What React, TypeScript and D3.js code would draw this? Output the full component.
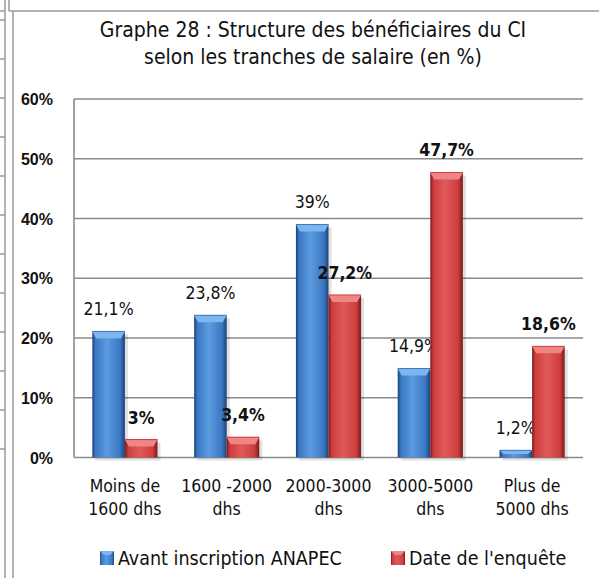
import React, { useRef, useEffect } from 'react';
import * as d3 from 'd3';

// categories and series
const categories = [['Moins de', '1600 dhs'], ['1600 -2000', 'dhs'], ['2000-3000', 'dhs'], ['3000-5000', 'dhs'], ['Plus de', '5000 dhs']];
const seriesNames = ['Avant inscription ANAPEC', "Date de l'enquête"];
const avant = [21.1, 23.8, 39, 14.9, 1.2];
const enquete = [3, 3.4, 27.2, 47.7, 18.6];
const avantLabels = ['21,1%', '23,8%', '39%', '14,9%', '1,2%'];
const enqueteLabels = ['3%', '3,4%', '27,2%', '47,7%', '18,6%'];
const yTicks = [0, 10, 20, 30, 40, 50, 60];
const titleLines = ['Graphe 28 : Structure des bénéficiaires  du CI', 'selon les tranches de salaire (en %)'];

const narrow = "'Liberation Sans Narrow', 'Arial Narrow', 'DejaVu Sans Condensed', sans-serif";

function App() {
  const ref = useRef();
  const width = 599;
  const height = 578;
  var margin = ({ top: 99, right: 16, bottom: 120.5, left: 74 });

  useEffect(() => {
    const svg = d3.select(ref.current);
    svg.selectAll('*').remove();
    drawChart(svg);
  }, []);

  const drawChart = (svg) => {
    const defs = svg.append('defs');
    const colors = [
      { dark: '#1d4378', mid: '#3a78c4', light: '#5b9be0', top: '#7fb5ee' },
      { dark: '#7a1a1a', mid: '#cf3d3d', light: '#e05a5a', top: '#f08585' }
    ];
    colors.forEach((c, i) => {
      const g = defs.append('linearGradient').attr('id', 'bar' + i).attr('x1', 0).attr('x2', 1).attr('y1', 0).attr('y2', 0);
      g.append('stop').attr('offset', '0%').attr('stop-color', c.dark);
      g.append('stop').attr('offset', '10%').attr('stop-color', c.mid);
      g.append('stop').attr('offset', '45%').attr('stop-color', c.light);
      g.append('stop').attr('offset', '85%').attr('stop-color', c.mid);
      g.append('stop').attr('offset', '100%').attr('stop-color', c.dark);
    });

    // page frame (table borders around the chart)
    const frame = svg.append('g').attr('stroke', '#9a9a9a').attr('stroke-width', 1.5).attr('fill', 'none');
    frame.append('line').attr('x1', 5).attr('x2', 5).attr('y1', 0).attr('y2', height);
    frame.append('line').attr('x1', 13).attr('x2', 13).attr('y1', 11).attr('y2', height);
    frame.append('line').attr('x1', 9).attr('x2', 9).attr('y1', 0).attr('y2', 11);
    frame.append('line').attr('x1', 9).attr('x2', width).attr('y1', 11).attr('y2', 11);
    frame.append('line').attr('x1', 0).attr('x2', 5).attr('y1', 11).attr('y2', 11);
    d3.range(12).forEach(k => {
      const yy = 20 + k * 39;
      frame.append('line').attr('x1', 0).attr('x2', 5).attr('y1', yy).attr('y2', yy);
    });

    var x0 = d3.scaleBand()
      .domain(d3.range(categories.length))
      .range([margin.left, width - margin.right])
      .paddingInner(0.36)
      .paddingOuter(0.18);

    var x1 = d3.scaleBand()
      .domain([0, 1])
      .range([0, x0.bandwidth()]);

    var y = d3.scaleLinear()
      .domain([0, 60])
      .range([height - margin.bottom, margin.top]);

    // title
    svg.append('g')
      .attr('font-family', narrow)
      .attr('font-size', 21)
      .attr('fill', '#111')
      .attr('text-anchor', 'middle')
      .selectAll('text')
      .data(titleLines)
      .join('text')
      .attr('x', 313)
      .attr('y', (d, i) => 37 + i * 27)
      .text(d => d);

    // gridlines
    svg.append('g')
      .selectAll('line')
      .data(yTicks)
      .join('line')
      .attr('x1', margin.left)
      .attr('x2', width - margin.right)
      .attr('y1', d => y(d))
      .attr('y2', d => y(d))
      .attr('stroke', '#8a8a8a')
      .attr('stroke-width', 1.6);

    svg.append('line')
      .attr('x1', margin.left).attr('x2', margin.left)
      .attr('y1', y(60)).attr('y2', y(0))
      .attr('stroke', '#8a8a8a').attr('stroke-width', 1.6);

    // y labels
    svg.append('g')
      .attr('font-family', "'Liberation Sans', Arial, sans-serif")
      .attr('font-size', 16)
      .attr('font-weight', 'bold')
      .attr('text-anchor', 'end')
      .attr('fill', '#111')
      .selectAll('text')
      .data(yTicks)
      .join('text')
      .attr('x', 53)
      .attr('y', d => y(d) + 6)
      .text(d => d + '%');

    const series = [avant, enquete];
    const labels = [avantLabels, enqueteLabels];

    series.forEach((vals, s) => {
      const c = colors[s];
      const bw = x1.bandwidth();
      const g = svg.append('g');
      const bars = g.selectAll('g')
        .data(vals)
        .join('g')
        .attr('transform', (d, i) => `translate(${x0(i) + x1(s)},0)`);
      // shadow
      bars.append('rect')
        .attr('x', 3)
        .attr('y', d => y(d) + 3)
        .attr('width', bw)
        .attr('height', d => y(0) - y(d))
        .attr('fill', '#000')
        .attr('opacity', 0.12);
      bars.append('rect')
        .attr('x', 0)
        .attr('y', d => y(d))
        .attr('width', bw)
        .attr('height', d => y(0) - y(d))
        .attr('fill', `url(#bar${s})`);
      // bevelled top
      bars.append('path')
        .attr('d', d => {
          const t = y(d);
          const h = Math.min(7, (y(0) - t) / 2);
          return `M0,${t}L${bw},${t}L${bw - 4},${t + h}L4,${t + h}Z`;
        })
        .attr('fill', c.top);
      bars.append('line')
        .attr('x1', 0).attr('x2', bw)
        .attr('y1', d => y(d)).attr('y2', d => y(d))
        .attr('stroke', c.mid).attr('stroke-width', 1);

      svg.append('g')
        .attr('font-family', narrow)
        .attr('font-size', 17.5)
        .attr('font-weight', s === 1 ? 'bold' : 'normal')
        .attr('fill', '#111')
        .attr('text-anchor', 'middle')
        .selectAll('text')
        .data(vals)
        .join('text')
        .attr('x', (d, i) => x0(i) + x1(s) + bw / 2)
        .attr('y', d => y(d) - 16)
        .text((d, i) => labels[s][i]);
    });

    // category labels
    const cat = svg.append('g')
      .attr('font-family', narrow)
      .attr('font-size', 17.5)
      .attr('fill', '#111')
      .attr('text-anchor', 'middle');
    categories.forEach((lines, i) => {
      cat.append('text')
        .attr('x', x0(i) + x0.bandwidth() / 2)
        .attr('y', 492)
        .text(lines[0]);
      cat.append('text')
        .attr('x', x0(i) + x0.bandwidth() / 2)
        .attr('y', 515)
        .text(lines[1]);
    });

    // legend
    const legendX = [100, 391];
    const leg = svg.append('g')
      .selectAll('g')
      .data(seriesNames)
      .join('g')
      .attr('transform', (d, i) => `translate(${legendX[i]},551)`);
    leg.append('rect')
      .attr('width', 14).attr('height', 14)
      .attr('fill', (d, i) => `url(#bar${i})`);
    leg.append('path')
      .attr('d', 'M0,0L14,0L10,4L4,4Z')
      .attr('fill', (d, i) => colors[i].top);
    leg.append('text')
      .attr('x', 18)
      .attr('y', 14)
      .attr('font-family', narrow)
      .attr('font-size', 19.5)
      .attr('fill', '#111')
      .text(d => d);
  };

  return (
    <div style={{ padding: 0, margin: 0 }}>
      <svg ref={ref} width={width} height={height}
        style={{ position: 'absolute', left: 0, top: 0, display: 'block', background: '#fff' }}>
      </svg>
    </div>
  );
}

export default App;
